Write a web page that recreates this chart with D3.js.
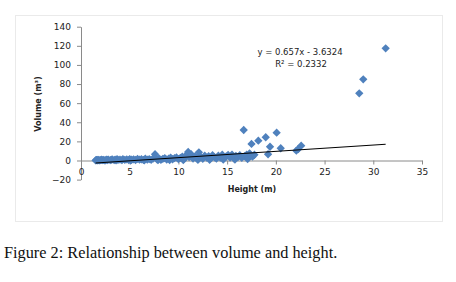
<!DOCTYPE html>
<html>
<head>
<meta charset="utf-8">
<script src="https://cdn.jsdelivr.net/npm/d3@7"></script>
<style>
  body { margin: 0; background: #fff; }
  svg { display: block; }
</style>
</head>
<body>
<svg id="chart" width="456" height="282"></svg>
<script>
// tree heights (m) and volumes (m3)
var height = [1.5, 1.55, 1.6, 1.65, 1.7, 1.8, 1.9, 2.0, 2.1, 2.2, 2.3, 2.4, 2.5, 2.6, 2.7, 2.8, 3.0, 3.1, 3.2, 3.4,
    3.5, 3.6, 3.7, 3.8, 4.0, 4.2, 4.3, 4.5, 4.7, 4.9, 5.0, 5.1, 5.2, 5.4, 5.6, 5.8, 6.0, 6.2, 6.4, 6.5,
    6.6, 6.8, 7.0, 7.2, 7.4, 7.6, 7.8, 7.9, 8.0, 8.2, 8.4, 8.6, 8.8, 9.0, 9.1, 9.2, 9.4, 9.6, 9.8, 10.0,
    10.2, 10.4, 10.5, 10.6, 10.8, 11.0, 11.1, 11.3, 11.5, 11.7, 11.9, 12.0, 12.1, 12.3, 12.5, 12.7, 12.9, 13.1, 13.2, 13.3,
    13.5, 13.7, 13.9, 14.1, 14.3, 14.5, 14.6, 14.7, 14.9, 15.1, 15.3, 15.5, 15.7, 15.8, 15.9, 16.1, 16.3, 16.5, 16.7, 16.8,
    17.0, 17.1, 17.2, 17.3, 17.4, 17.5, 17.6, 17.8, 18.2, 18.96, 19.2, 19.4, 20.08, 20.5, 22.1, 22.3, 22.6, 28.56, 28.97, 31.27];
var volume = [0.1, 0.4, 0.3, 0.6, 0.2, 0.5, 0.1, 0.4, 0.8, 0.3, 0.6, 0.05, 0.2, 0.9, 0.5, 1.0, 0.3, 0.7, 1.2, 0.4,
    0.9, 0.1, 1.3, 0.6, 1.0, 0.3, 1.4, 0.7, 1.1, 0.4, 1.5, 0.2, 0.8, 1.2, 0.5, 1.6, 0.9, 1.3, 0.6, 0.2,
    1.8, 1.0, 1.5, 0.7, 2.0, 6.5, 1.2, 0.3, 2.2, 0.8, 1.7, 2.5, 1.0, 2.0, 0.4, 3.0, 1.3, 2.4, 3.2, 1.5,
    2.8, 4.0, 0.5, 1.8, 5.5, 9.0, 3.5, 6.5, 2.0, 4.2, 2.8, 0.6, 8.5, 3.8, 1.8, 5.0, 3.0, 4.5, 0.8, 2.2,
    5.5, 3.4, 1.9, 5.0, 3.0, 6.0, 1.0, 2.5, 4.2, 5.8, 3.0, 6.2, 2.2, 1.0, 4.8, 3.5, 5.5, 2.8, 31.9, 4.5,
    6.0, 1.5, 3.0, 7.5, 5.0, 17.3, 4.0, 6.0, 20.7, 24.3, 6.5, 14.4, 29.1, 12.8, 10.3, 12.0, 15.5, 70.3, 84.9, 117.4];

var xTicks = [0, 5, 10, 15, 20, 25, 30, 35];
var yTicks = [-20, 0, 20, 40, 60, 80, 100, 120, 140];

// linear trendline as printed on the chart
var slope = 0.657, intercept = -3.6324, r2 = 0.2332;

var points = height.map(function(h, i) { return {x: h, y: volume[i]}; });

var svg = d3.select("#chart");

// dotted frame round the chart area
svg.append("rect")
    .attr("x", 15.5).attr("y", 15.5)
    .attr("width", 427).attr("height", 206)
    .attr("fill", "none")
    .attr("stroke", "#d4d4d4")
    .attr("stroke-dasharray", "1,1");

var xScale = d3.scaleLinear().domain([0, 35]).range([81, 422]);
var yScale = d3.scaleLinear().domain([-20, 140]).range([179.6, 26.7]);

var axisFont = "DejaVu Sans, Verdana, sans-serif";

// y axis
var yAxis = svg.append("g")
    .attr("transform", "translate(" + xScale(0) + ",0)")
    .call(d3.axisLeft(yScale).tickValues(yTicks).tickSize(4).tickSizeOuter(0).tickPadding(6));

// x axis sits on y = 0
var xAxis = svg.append("g")
    .attr("transform", "translate(0," + Math.round(yScale(0)) + ".5)")
    .call(d3.axisBottom(xScale).tickValues(xTicks).tickSize(4).tickSizeOuter(0).tickPadding(4));

[yAxis, xAxis].forEach(function(g) {
    g.select(".domain").attr("stroke", "#8a8a8a");
    g.selectAll(".tick line").attr("stroke", "#8a8a8a");
    g.selectAll(".tick text")
        .attr("fill", "#222")
        .style("font-family", axisFont)
        .style("font-size", "9px");
});

// points
svg.append("g").selectAll("path")
    .data(points)
    .enter()
    .append("path")
    .attr("transform", function(d) { return "translate(" + xScale(d.x) + "," + yScale(d.y) + ")"; })
    .attr("d", d3.symbol().type(d3.symbolDiamond2).size(44))
    .attr("fill", "#4f81bd");

// trendline over the range of heights
var ext = d3.extent(height);
svg.append("line")
    .attr("x1", xScale(ext[0])).attr("y1", yScale(slope * ext[0] + intercept))
    .attr("x2", xScale(ext[1])).attr("y2", yScale(slope * ext[1] + intercept))
    .attr("stroke", "#000")
    .attr("stroke-width", 1.1);

// equation label
svg.append("text")
    .attr("x", 300).attr("y", 54.5)
    .attr("text-anchor", "middle")
    .style("font-family", axisFont).style("font-size", "8.5px")
    .attr("fill", "#222")
    .text("y = " + slope + "x - " + Math.abs(intercept));
svg.append("text")
    .attr("x", 301).attr("y", 66.5)
    .attr("text-anchor", "middle")
    .style("font-family", axisFont).style("font-size", "8.5px")
    .attr("fill", "#222")
    .text("R\u00b2 = " + r2);

// axis titles
svg.append("text")
    .attr("x", 252).attr("y", 192)
    .attr("text-anchor", "middle")
    .style("font-family", axisFont).style("font-size", "8px").style("font-weight", "bold")
    .attr("fill", "#222")
    .text("Height (m)");
svg.append("text")
    .attr("transform", "translate(41,104) rotate(-90)")
    .attr("text-anchor", "middle")
    .style("font-family", axisFont).style("font-size", "8px").style("font-weight", "bold")
    .attr("fill", "#222")
    .text("Volume (m\u00b3)");

// caption under the frame
svg.append("text")
    .attr("x", 4).attr("y", 258)
    .style("font-family", "Liberation Serif, Times New Roman, serif")
    .style("font-size", "16.3px")
    .attr("fill", "#111")
    .text("Figure 2: Relationship between volume and height.");
</script>
</body>
</html>
